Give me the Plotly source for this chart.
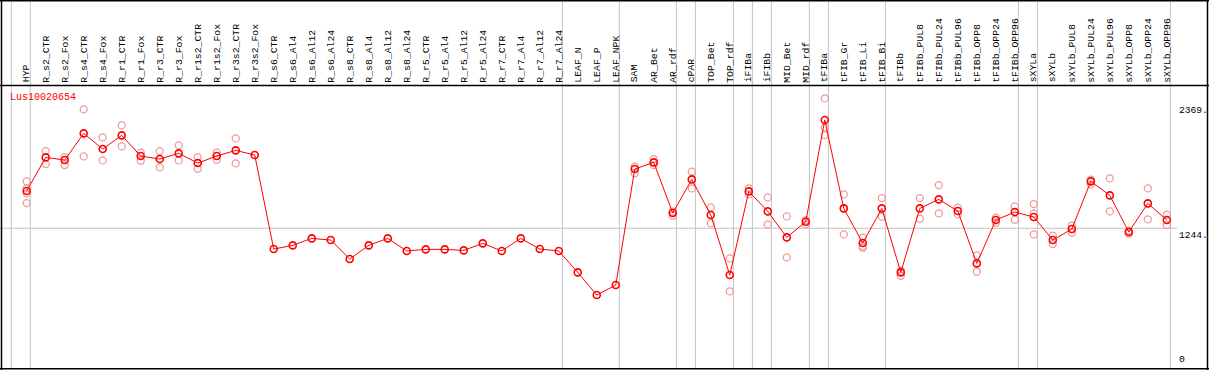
import plotly.graph_objects as go

categories = ["HYP", "R_s2_CTR", "R_s2_Fox", "R_s4_CTR", "R_s4_Fox", "R_r1_CTR", "R_r1_Fox",
              "R_r3_CTR", "R_r3_Fox", "R_r1s2_CTR", "R_r1s2_Fox", "R_r3s2_CTR", "R_r3s2_Fox",
              "R_s6_CTR", "R_s6_Al4", "R_s6_Al12", "R_s6_Al24", "R_s8_CTR", "R_s8_Al4", "R_s8_Al12",
              "R_s8_Al24", "R_r5_CTR", "R_r5_Al4", "R_r5_Al12", "R_r5_Al24", "R_r7_CTR", "R_r7_Al4",
              "R_r7_Al12", "R_r7_Al24", "LEAF_N", "LEAF_P", "LEAF_NPK", "SAM", "AR_Bet", "AR_rdf",
              "cPAR", "TOP_Bet", "TOP_rdf", "iFIBa", "iFIBb", "MID_Bet", "MID_rdf", "tFIBa",
              "tFIB_Gr", "tFIB_Li", "tFIB_Bi", "tFIBb", "tFIBb_PUL8", "tFIBb_PUL24", "tFIBb_PUL96",
              "tFIBb_OPP8", "tFIBb_OPP24", "tFIBb_OPP96", "sXYLa", "sXYLb", "sXYLb_PUL8",
              "sXYLb_PUL24", "sXYLb_PUL96", "sXYLb_OPP8", "sXYLb_OPP24", "sXYLb_OPP96"]

means = [1580, 1882, 1858, 2098, 1957, 2080, 1894, 1867, 1918, 1831, 1894, 1945, 1903,
         1057, 1090, 1153, 1138, 967, 1090, 1153, 1040, 1054, 1054, 1045, 1108, 1040, 1153,
         1057, 1040, 847, 643, 733, 1777, 1837, 1381, 1684, 1363, 823, 1576, 1396, 1162, 1303,
         2218, 1423, 1111, 1423, 847, 1423, 1504, 1399, 928, 1318, 1390, 1345, 1138, 1237,
         1666, 1540, 1210, 1468, 1318]

replicates = [
    [1666, 1603, 1558, 1471], [1939, 1822], [1885, 1813], [2314, 1891], [2062, 1855],
    [2170, 1981], [1924, 1852], [1939, 1792], [1990, 1855], [1885, 1780], [1924, 1861],
    [2053, 1828], [], [], [], [], [], [], [], [], [], [], [], [], [], [], [], [], [], [], [], [],
    [1798, 1738], [1867, 1813], [1393, 1357], [1753, 1603], [1432, 1288], [973, 676],
    [1603, 1549], [1522, 1279], [1351, 982], [1318, 1279], [2413, 2152, 2083],
    [1549, 1423, 1189], [1159, 1084, 1069], [1516, 1348], [862, 817], [1516, 1330],
    [1633, 1378], [1429, 1369], [1000, 853], [1339, 1294], [1441, 1321], [1462, 1378, 1189],
    [1177, 1102], [1267, 1204], [1681, 1639], [1693, 1396], [1222, 1195], [1603, 1324],
    [1366, 1273]]

group_ends = [-1, 0, 28, 31, 34, 35, 37, 38, 39, 41, 42, 45, 52, 53, 60]
y_ticks = [2369, 1244]
title = "Lus10020654"

W, H = 1209, 370
FONT = "Liberation Mono"
idx = list(range(len(categories)))

rx, ry = [], []
for i, r in enumerate(replicates):
    for v in r:
        rx.append(i)
        ry.append(v)

fig = go.Figure()
fig.add_trace(go.Scatter(x=rx, y=ry, mode="markers",
                         marker=dict(symbol="circle-open", size=7, color="#f09a9a",
                                     line=dict(color="#f09a9a", width=1.3)),
                         hoverinfo="skip"))
fig.add_trace(go.Scatter(x=idx, y=means, mode="lines+markers",
                         line=dict(color="#ff0000", width=1),
                         marker=dict(symbol="circle-open", size=7, color="#ff0000",
                                     line=dict(color="#ff0000", width=1.6))))

shapes = []
gray = "#c4c4c4"
for g in group_ends:
    shapes.append(dict(type="line", xref="x", yref="paper", x0=g + 0.19, x1=g + 0.19,
                       y0=0, y1=1, line=dict(color=gray, width=1), layer="below"))
# horizontal gridline
shapes.append(dict(type="line", xref="paper", yref="y", x0=0, x1=1177 / W,
                   y0=y_ticks[1], y1=y_ticks[1], line=dict(color=gray, width=1), layer="below"))


def px(x):
    return x / W


def py(y):
    return 1 - y / H


blk = dict(color="black", width=1.5)
shapes += [
    dict(type="line", xref="paper", yref="paper", x0=px(0), x1=px(W), y0=py(0.7), y1=py(0.7), line=blk),
    dict(type="line", xref="paper", yref="paper", x0=px(0), x1=px(W), y0=py(85.5), y1=py(85.5), line=blk),
    dict(type="line", xref="paper", yref="paper", x0=px(0), x1=px(W), y0=py(368.8), y1=py(368.8), line=blk),
    dict(type="line", xref="paper", yref="paper", x0=px(1.5), x1=px(1.5), y0=0, y1=1, line=blk),
    dict(type="line", xref="paper", yref="paper", x0=px(1207.5), x1=px(1207.5), y0=0, y1=1, line=blk),
]

annotations = []
for i, c in enumerate(categories):
    annotations.append(dict(x=i, xref="x", y=py(83.5), yref="paper", text=c, showarrow=False,
                            textangle=-90, xanchor="center", yanchor="bottom",
                            font=dict(family=FONT, size=9.8, color="black"),
                            borderpad=0))
annotations.append(dict(x=px(9), xref="paper", y=py(97), yref="paper", text=title,
                        showarrow=False, xanchor="left", yanchor="middle", borderpad=0,
                        font=dict(family=FONT, size=10, color="#ff0000")))
for t in y_ticks:
    annotations.append(dict(x=px(1178), xref="paper", y=t, yref="y", text=f"{t}.",
                            showarrow=False, xanchor="left", yanchor="top", borderpad=0,
                            yshift=-0.5, font=dict(family=FONT, size=9.6, color="black")))
annotations.append(dict(x=px(1178), xref="paper", y=0, yref="y", text="0",
                        showarrow=False, xanchor="left", yanchor="bottom", borderpad=0,
                        yshift=1, font=dict(family=FONT, size=9.8, color="black")))

fig.update_layout(
    width=W, height=H, margin=dict(l=0, r=0, t=0, b=0),
    paper_bgcolor="white", plot_bgcolor="white", showlegend=False,
    xaxis=dict(range=[-1.405, 62.22], domain=[0, 1], visible=False, fixedrange=True),
    yaxis=dict(range=[-13.5, 2533.5], domain=[py(368), py(85)], visible=False, fixedrange=True),
    shapes=shapes, annotations=annotations,
)
fig.write_html("out.html", config={"displayModeBar": False},
               post_script="document.body.style.margin='0';document.body.style.padding='0';"
                           "document.body.style.overflow='hidden';")
